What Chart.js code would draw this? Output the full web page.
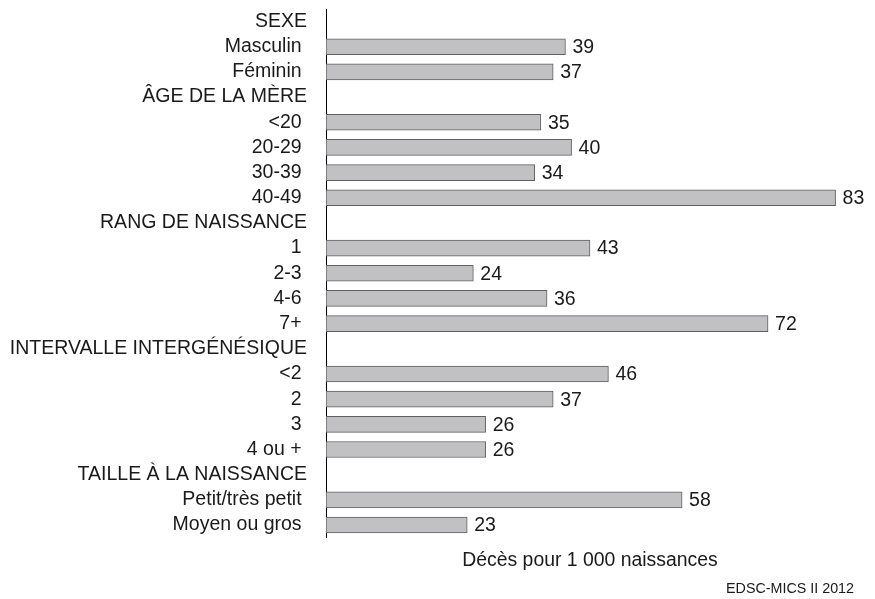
<!DOCTYPE html>
<html>
<head>
<meta charset="utf-8">
<script src="https://cdn.jsdelivr.net/npm/chart.js@4/dist/chart.umd.min.js"></script>
<style>
    body { margin: 0; background: #fff; }
    #wrap { width: 875px; height: 599px; }
</style>
</head>
<body>
<div id="wrap"><canvas id="deces"></canvas></div>
<script>
// rows of the chart, group headers have no value
const categories = [
    'SEXE', 'Masculin ', 'Féminin ',
    'ÂGE DE LA MÈRE', '<20 ', '20-29 ', '30-39 ', '40-49 ',
    'RANG DE NAISSANCE', '1 ', '2-3 ', '4-6 ', '7+ ',
    'INTERVALLE INTERGÉNÉSIQUE', '<2 ', '2 ', '3 ', '4 ou + ',
    'TAILLE À LA NAISSANCE', 'Petit/très petit ', 'Moyen ou gros '
];
const values = [
    null, 39, 37,
    null, 35, 40, 34, 83,
    null, 43, 24, 36, 72,
    null, 46, 37, 26, 26,
    null, 58, 23
];
const axisTitle = 'Décès pour 1 000 naissances';
const sourceNote = 'EDSC-MICS II 2012';

const FONT = 'Arial, "Liberation Sans", sans-serif';
const TEXT = '#1a1a1a';

// prints the value just right of each bar
const barValues = {
    id: 'barValues',
    afterDatasetsDraw(chart) {
        const ctx = chart.ctx;
        const meta = chart.getDatasetMeta(0);
        ctx.save();
        ctx.font = '19.5px ' + FONT;
        ctx.fillStyle = TEXT;
        ctx.textAlign = 'left';
        ctx.textBaseline = 'middle';
        meta.data.forEach((bar, i) => {
            const v = values[i];
            if (v === null) return;
            ctx.fillText(String(v), bar.x + 7, bar.y + 1);
        });
        ctx.restore();
    }
};

const info = {
    labels: categories,
    datasets: [{
        data: values,
        backgroundColor: '#c1c1c4',
        borderColor: '#5f5f5f',
        borderWidth: 1,
        borderSkipped: false,
        barThickness: 16
    }]
};

const config = {
    type: 'bar',
    data: info,
    plugins: [barValues],
    options: {
        indexAxis: 'y',
        responsive: true,
        maintainAspectRatio: false,
        animation: false,
        layout: { padding: { top: 9, right: 21, bottom: 0, left: 0 } },
        plugins: {
            legend: { display: false },
            tooltip: { enabled: false },
            subtitle: {
                display: true,
                text: sourceNote,
                position: 'bottom',
                align: 'end',
                color: TEXT,
                font: { family: FONT, size: 14.3 },
                padding: { top: 6, bottom: 1 }
            }
        },
        scales: {
            x: {
                min: 0,
                max: 86,
                grid: { display: false, drawTicks: false },
                border: { display: false },
                ticks: { display: false },
                title: {
                    display: true,
                    text: axisTitle,
                    color: TEXT,
                    font: { family: FONT, size: 19.4 },
                    padding: { top: 11, bottom: 3 }
                }
            },
            y: {
                grid: { display: false, drawTicks: false },
                border: { display: true, color: '#000', width: 1 },
                ticks: {
                    color: TEXT,
                    padding: 19,
                    autoSkip: false,
                    font: { family: FONT, size: 19.5 }
                },
                afterFit(scale) {
                    // fixed label column, no extra room above/below the rows
                    scale.width = 326;
                    scale.paddingTop = 0;
                    scale.paddingBottom = 0;
                }
            }
        }
    }
};

const myChart = new Chart(document.getElementById('deces'), config);
</script>
</body>
</html>
